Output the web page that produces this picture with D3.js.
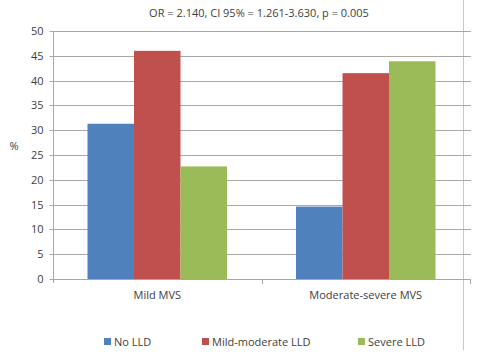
<!DOCTYPE html>
<html><head><meta charset="utf-8">
<script src="https://cdn.jsdelivr.net/npm/d3@7/dist/d3.min.js"></script>
<style>body{margin:0;background:#fff}svg{display:block}text{font-family:"Open Sans",Arial,sans-serif;fill:#404040}</style>
</head><body>
<script>
const categories = ["Mild MVS", "Moderate-severe MVS"];
const seriesNames = ["No LLD", "Mild-moderate LLD", "Severe LLD"];
const noLLD = [31.3, 14.6];
const mildModLLD = [46.0, 41.5];
const severeLLD = [22.7, 43.9];
const yTicks = [0, 5, 10, 15, 20, 25, 30, 35, 40, 45, 50];
const colors = ["#4F81BD", "#C0504D", "#9BBB59"];
const title = "OR = 2.140, CI 95% = 1.261-3.630, p = 0.005";

const W = 479, H = 355;
const gridCol = "#a8a8a8";
const svg = d3.select("body").append("svg").attr("width", W).attr("height", H);
const mL = 53, mR = 470, mT = 31, mB = 279;
const y = d3.scaleLinear().domain([0, 50]).range([mB, mT]);
const x0 = d3.scaleBand().domain(categories).range([mL, mR]).paddingInner(0).paddingOuter(0);
const x1 = d3.scaleBand().domain(seriesNames).range([34.5, x0.bandwidth() - 34.5]);

// frame line at right
svg.append("line").attr("x1", 463.5).attr("x2", 463.5).attr("y1", 0).attr("y2", 350).attr("stroke", "#c8c8c8");

// gridlines
svg.append("g").selectAll("line").data(yTicks.filter(d => d > 0)).join("line")
  .attr("x1", mL).attr("x2", mR + 1).attr("y1", d => Math.round(y(d)) + 0.5).attr("y2", d => Math.round(y(d)) + 0.5)
  .attr("stroke", gridCol).attr("stroke-width", 1);

// bars
const data = [noLLD, mildModLLD, severeLLD];
const g = svg.append("g");
categories.forEach((c, ci) => {
  seriesNames.forEach((s, si) => {
    g.append("rect").attr("x", x0(c) + x1(s)).attr("width", x1.bandwidth())
      .attr("y", y(data[si][ci])).attr("height", mB - y(data[si][ci]))
      .attr("fill", colors[si]);
  });
});

// y axis
const ya = d3.axisLeft(y).tickValues(yTicks).tickSize(4).tickPadding(6);
const yg = svg.append("g").attr("transform", `translate(${mL + 0.5},0)`).call(ya);
yg.select(".domain").attr("stroke", gridCol).attr("d", `M0,${mT}V${mB + 4}`);
yg.selectAll(".tick line").attr("stroke", gridCol);
yg.selectAll(".tick").attr("transform", d => `translate(0,${Math.round(y(d)) + 0.5})`);
yg.selectAll("text").style("font-size", "11px").attr("fill", "#404040").style("font-family", '"Open Sans",Arial,sans-serif');

// x axis
const xa = d3.axisBottom(x0).tickSize(0).tickPadding(12);
const xg = svg.append("g").attr("transform", `translate(0,${mB + 0.5})`).call(xa);
xg.select(".domain").attr("stroke", gridCol).attr("d", `M${mL},0H${mR}`);
xg.selectAll("text").style("font-size", "11px").attr("fill", "#404040").style("font-family", '"Open Sans",Arial,sans-serif');
// category boundary ticks
svg.append("g").selectAll("line").data([x0.range()[0] + x0.bandwidth(), mR]).join("line")
  .attr("x1", d => Math.round(d) + 0.5).attr("x2", d => Math.round(d) + 0.5)
  .attr("y1", mB).attr("y2", mB + 5).attr("stroke", gridCol);

// title
svg.append("text").attr("x", 259).attr("y", 17).attr("text-anchor", "middle").style("font-size", "11px").text(title);
// y label
svg.append("text").attr("x", 14).attr("y", 150).attr("text-anchor", "middle").style("font-size", "11px").text("%");

// legend
const legX = [104, 202, 358];
const leg = svg.append("g").selectAll("g").data(seriesNames).join("g")
  .attr("transform", (d, i) => `translate(${legX[i]},342)`);
leg.append("rect").attr("x", 0).attr("y", -4).attr("width", 7).attr("height", 7).attr("fill", (d, i) => colors[i]);
leg.append("text").attr("x", 10).attr("y", 4).style("font-size", "11px").text(d => d);
</script>
</body></html>
